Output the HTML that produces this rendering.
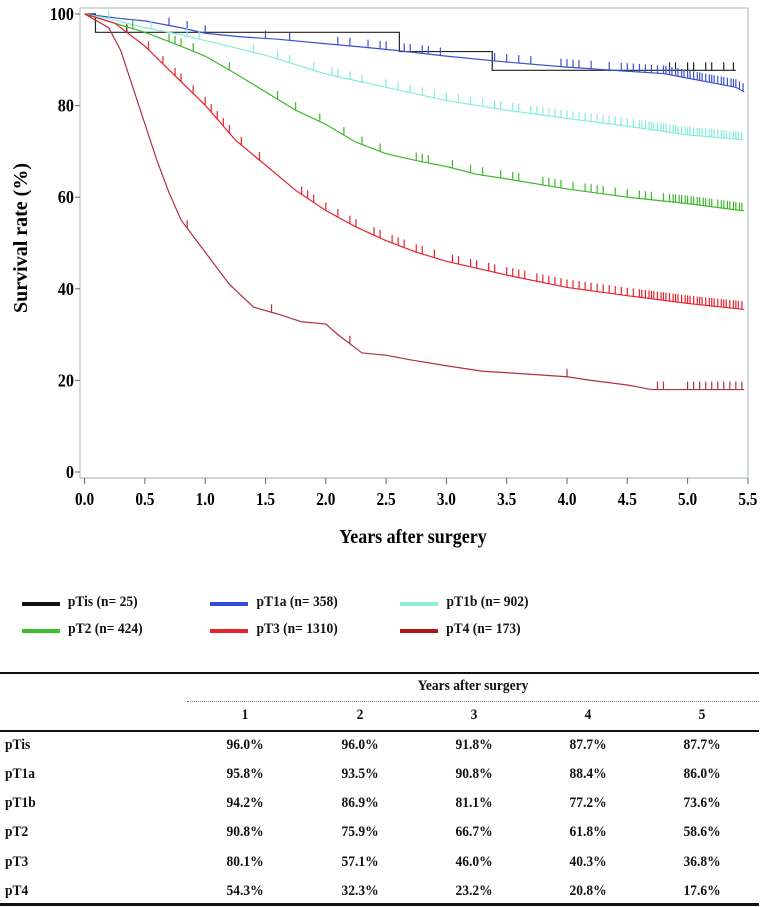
<!DOCTYPE html>
<html><head><meta charset="utf-8">
<style>
body{margin:0;background:#fff;width:767px;height:907px;overflow:hidden;position:relative;font-family:"Liberation Serif",serif;}
svg{position:absolute;left:0;top:0}
.tb{position:absolute;font-weight:bold;font-size:15px;color:#111;transform:scaleX(0.9);transform-origin:center;white-space:nowrap}
.hl{position:absolute;left:0;width:759px;background:#111}
</style></head>
<body>
<svg id="chart" width="767" height="580" viewBox="0 0 767 580">
  <rect x="80" y="8" width="668" height="470" fill="none" stroke="#b8c4c8" stroke-width="1.2"/>
  <g id="axes"></g>
  <g id="curves"></g>
  <text x="413" y="543" text-anchor="middle" font-family="Liberation Serif" font-weight="bold" font-size="20" transform="translate(413,0) scale(0.9,1) translate(-413,0)">Years after surgery</text>
  <text x="0" y="0" text-anchor="middle" font-family="Liberation Serif" font-weight="bold" font-size="20" transform="translate(27,238) rotate(-90)">Survival rate (%)</text>
</svg>

<div>
  <div style="position:absolute;left:22px;top:594px"><span style="position:absolute;left:0;top:8px;width:38px;height:4px;background:#111"></span><span class="tb" style="position:absolute;left:42px;top:0">pTis (n= 25)</span></div>
  <div style="position:absolute;left:210px;top:594px"><span style="position:absolute;left:0;top:8px;width:38px;height:4px;background:#2f4fd8"></span><span class="tb" style="position:absolute;left:42px;top:0">pT1a (n= 358)</span></div>
  <div style="position:absolute;left:400px;top:594px"><span style="position:absolute;left:0;top:8px;width:38px;height:4px;background:#8eeedd"></span><span class="tb" style="position:absolute;left:42px;top:0">pT1b (n= 902)</span></div>
  <div style="position:absolute;left:22px;top:621px"><span style="position:absolute;left:0;top:8px;width:38px;height:4px;background:#3cbf2a"></span><span class="tb" style="position:absolute;left:42px;top:0">pT2 (n= 424)</span></div>
  <div style="position:absolute;left:210px;top:621px"><span style="position:absolute;left:0;top:8px;width:38px;height:4px;background:#e8202a"></span><span class="tb" style="position:absolute;left:42px;top:0">pT3 (n= 1310)</span></div>
  <div style="position:absolute;left:400px;top:621px"><span style="position:absolute;left:0;top:8px;width:38px;height:4px;background:#b01515"></span><span class="tb" style="position:absolute;left:42px;top:0">pT4 (n= 173)</span></div>
</div>

<div id="table">
  <div class="hl" style="top:672px;height:2px"></div>
  <div class="tb" style="left:400px;width:146px;top:678px;text-align:center">Years after surgery</div>
  <div style="position:absolute;left:187px;width:572px;top:701px;border-top:1px dotted #777"></div>
  <div class="hl" style="top:730px;height:2px"></div>
  <div class="hl" style="top:903px;height:3px"></div>
</div>

<script>
const years = [1,2,3,4,5];
const rowLabels = ["pTis","pT1a","pT1b","pT2","pT3","pT4"];
const tableValues = [
  ["96.0%","96.0%","91.8%","87.7%","87.7%"],
  ["95.8%","93.5%","90.8%","88.4%","86.0%"],
  ["94.2%","86.9%","81.1%","77.2%","73.6%"],
  ["90.8%","75.9%","66.7%","61.8%","58.6%"],
  ["80.1%","57.1%","46.0%","40.3%","36.8%"],
  ["54.3%","32.3%","23.2%","20.8%","17.6%"]
];
const xTicks = [0,0.5,1,1.5,2,2.5,3,3.5,4,4.5,5,5.5];
const xTickLabels = ["0.0","0.5","1.0","1.5","2.0","2.5","3.0","3.5","4.0","4.5","5.0","5.5"];
const yTicks = [0,20,40,60,80,100];

const seriesNames = ["ptis","pt1a","pt1b","pt2","pt3","pt4"];
const ptisT = [0,0.09,2.61,3.38,5.4];
const ptisS = [100,96,91.8,87.7,87.7];
const pt1aT = [0,0.3,0.5,0.8,1.0,1.3,1.6,2.0,2.3,2.6,3.0,3.5,4.0,4.5,4.8,5.0,5.2,5.4,5.47];
const pt1aS = [100,99,98.5,97,95.8,95,94.5,93.5,92.8,92,90.8,89.5,88.4,87.5,87,86,85,84,83];
const pt1bT = [0,0.2,0.5,0.8,1.0,1.5,2.0,2.5,3.0,3.5,4.0,4.5,5.0,5.47];
const pt1bS = [100,99,97,95.5,94.2,91,86.9,84,81.1,79,77.2,75.5,73.6,72.5];
const pt2T = [0,0.25,0.5,0.75,1,1.25,1.5,1.75,2,2.25,2.5,2.75,3,3.25,3.5,4,4.5,5,5.47];
const pt2S = [100,98,96,93.5,90.8,87,83,79,75.9,72,69.5,68,66.7,65,64,61.8,60,58.6,57];
const pt3T = [0,0.25,0.5,0.75,1,1.25,1.5,1.75,2,2.25,2.5,2.75,3,3.5,4,4.5,5,5.47];
const pt3S = [100,98,93,86.5,80.1,72.5,67,61.5,57.1,53.5,50.5,48,46,43,40.3,38.5,36.8,35.5];
const pt4T = [0,0.2,0.3,0.4,0.5,0.6,0.7,0.8,0.9,1,1.2,1.4,1.6,1.8,2,2.1,2.2,2.3,2.5,2.7,3,3.3,3.6,4,4.2,4.5,4.7,5.47];
const pt4S = [100,97,92,84,76,68,61,55,51.5,48,41,36,34.5,32.8,32.3,30,28,26,25.5,24.5,23.2,22,21.5,20.8,20,19,18,18];

const ptisC = [0.35,4.85,4.9,5.0,5.05,5.15,5.2,5.3,5.38];
const pt1aC = [0.7,0.85,1.0,1.5,1.7,2.1,2.2,2.35,2.45,2.5,2.65,2.7,2.8,2.85,2.95,3.4,3.5,3.6,3.7,3.95,4.0,4.05,4.1,4.2,4.35,4.45,4.5,4.55,4.6,4.65,4.7,4.75,4.8,4.82,4.85,4.87,4.9,4.92,4.95,4.97,5.0,5.02,5.05,5.08,5.1,5.12,5.15,5.18,5.2,5.22,5.25,5.28,5.3,5.33,5.36,5.38,5.4,5.43,5.46];
const pt1bC = [0.2,0.55,0.85,0.95,1.4,1.6,1.7,1.9,2.05,2.1,2.2,2.3,2.5,2.6,2.7,2.8,2.9,3.0,3.1,3.2,3.3,3.4,3.45,3.55,3.6,3.7,3.75,3.8,3.85,3.9,3.95,4.0,4.05,4.1,4.15,4.2,4.25,4.3,4.35,4.4,4.45,4.5,4.55,4.6,4.62,4.65,4.68,4.7,4.72,4.75,4.78,4.8,4.82,4.85,4.88,4.9,4.92,4.95,4.98,5.0,5.02,5.05,5.08,5.1,5.12,5.15,5.18,5.2,5.22,5.25,5.28,5.3,5.32,5.35,5.38,5.4,5.42,5.45];
const pt2C = [0.4,0.7,0.75,0.8,0.9,1.2,1.6,1.75,1.95,2.15,2.3,2.45,2.75,2.8,2.85,3.05,3.2,3.3,3.45,3.55,3.6,3.8,3.85,3.9,3.95,4.05,4.15,4.2,4.25,4.3,4.4,4.5,4.6,4.65,4.7,4.8,4.85,4.88,4.9,4.93,4.95,4.98,5.0,5.03,5.05,5.08,5.1,5.13,5.15,5.18,5.2,5.25,5.28,5.3,5.33,5.35,5.38,5.4,5.43,5.45];
const pt3C = [0.53,0.65,0.75,0.8,0.9,1.0,1.05,1.1,1.15,1.2,1.3,1.45,1.8,1.85,1.9,2.0,2.1,2.2,2.25,2.4,2.45,2.55,2.6,2.65,2.75,2.8,2.9,3.05,3.1,3.2,3.25,3.35,3.4,3.5,3.55,3.6,3.65,3.75,3.8,3.85,3.9,3.95,4.0,4.05,4.1,4.15,4.2,4.25,4.3,4.35,4.4,4.45,4.5,4.55,4.6,4.62,4.65,4.68,4.7,4.72,4.75,4.78,4.8,4.82,4.85,4.88,4.9,4.92,4.95,4.98,5.0,5.02,5.05,5.08,5.1,5.12,5.15,5.18,5.2,5.22,5.25,5.28,5.3,5.32,5.35,5.38,5.4,5.42,5.45];
const pt4C = [0.85,1.55,2.2,4.0,4.75,4.8,5.0,5.05,5.1,5.15,5.2,5.25,5.3,5.35,5.4,5.45];

const seriesT = [ptisT,pt1aT,pt1bT,pt2T,pt3T,pt4T];
const seriesS = [ptisS,pt1aS,pt1bS,pt2S,pt3S,pt4S];
const seriesC = [ptisC,pt1aC,pt1bC,pt2C,pt3C,pt4C];
const seriesStep = [true,false,false,false,false,false];
const seriesColor = ["#222","#3a50d0","#86ecdc","#3cb82a","#e8202a","#b03040"];

const NS="http://www.w3.org/2000/svg";
const xS = t => 84.6 + t*120.6;
const yS = s => 472 - s*4.58;

function survAt(T,S,step,t){
  for(let i=T.length-1;i>=0;i--){ if(t>=T[i]){
    if(step||i===T.length-1) return S[i];
    const f=(t-T[i])/(T[i+1]-T[i]); return S[i]+f*(S[i+1]-S[i]); } }
  return S[0];
}
function mk(tag,attrs,parent){const e=document.createElementNS(NS,tag);for(const k in attrs)e.setAttribute(k,attrs[k]);parent.appendChild(e);return e;}

const axes=document.getElementById('axes');
mk('line',{x1:80,y1:478,x2:748,y2:478,stroke:'#b8c4c8','stroke-width':1.2},axes);
xTicks.forEach((t,i)=>{
  const l=mk('line',{x1:xS(t),y1:478,x2:xS(t),y2:484,stroke:'#666','stroke-width':1},axes);
  
  
  const tx=mk('text',{x:xS(t),y:505,'text-anchor':'middle','font-family':'Liberation Serif','font-weight':'bold','font-size':18,transform:`translate(${xS(t)},0) scale(0.85,1) translate(${-xS(t)},0)`},axes);
  tx.textContent=xTickLabels[i];
  
  
});
yTicks.forEach(v=>{
  const l=mk('line',{x1:75,y1:yS(v),x2:80,y2:yS(v),stroke:'#666','stroke-width':1},axes);
  
  
  const tx=mk('text',{x:74,y:yS(v)+6,'text-anchor':'end','font-family':'Liberation Serif','font-weight':'bold','font-size':18,transform:`translate(74,0) scale(0.9,1) translate(-74,0)`},axes);
  tx.textContent=String(v);
  
  
});

const curves=document.getElementById('curves');
seriesNames.forEach((nm,k)=>{
  const T=seriesT[k],S=seriesS[k],step=seriesStep[k];
  const g=mk('g',{},curves);
  
  
  let d='M'+xS(T[0])+' '+yS(S[0]);
  for(let i=1;i<T.length;i++){
    if(step) d+=' L'+xS(T[i])+' '+yS(S[i-1]);
    d+=' L'+xS(T[i])+' '+yS(S[i]);
  }
  const p=mk('path',{d:d,fill:'none',stroke:seriesColor[k],'stroke-width':1.2},g);
  
  
  seriesC[k].forEach(c=>{
    const s=survAt(T,S,step,c);
    const l=mk('line',{x1:xS(c),y1:yS(s),x2:xS(c),y2:yS(s)-8,stroke:seriesColor[k],'stroke-width':1.2},g);
    
    
  });
});

const colX=[245,360,474,588,702];
const table=document.getElementById('table');
years.forEach((y,i)=>{
  const d=document.createElement('div');
  d.className='tb';
  
  
  d.style.left=(colX[i]-30)+'px';d.style.width='60px';d.style.textAlign='center';d.style.top='707px';
  d.textContent=String(y);table.appendChild(d);
});
const rowY=[737,766,795,824,854,883];
rowLabels.forEach((r,j)=>{
  const d=document.createElement('div');
  d.className='tb';
  
  
  d.style.left='5px';d.style.top=rowY[j]+'px';d.style.transformOrigin='left';
  d.textContent=r;table.appendChild(d);
  tableValues[j].forEach((v,i)=>{
    const c=document.createElement('div');
    c.className='tb';
    
    
    c.style.left=(colX[i]-35)+'px';c.style.width='70px';c.style.textAlign='center';c.style.top=rowY[j]+'px';
    c.textContent=v;table.appendChild(c);
  });
});
</script>
</body></html>
